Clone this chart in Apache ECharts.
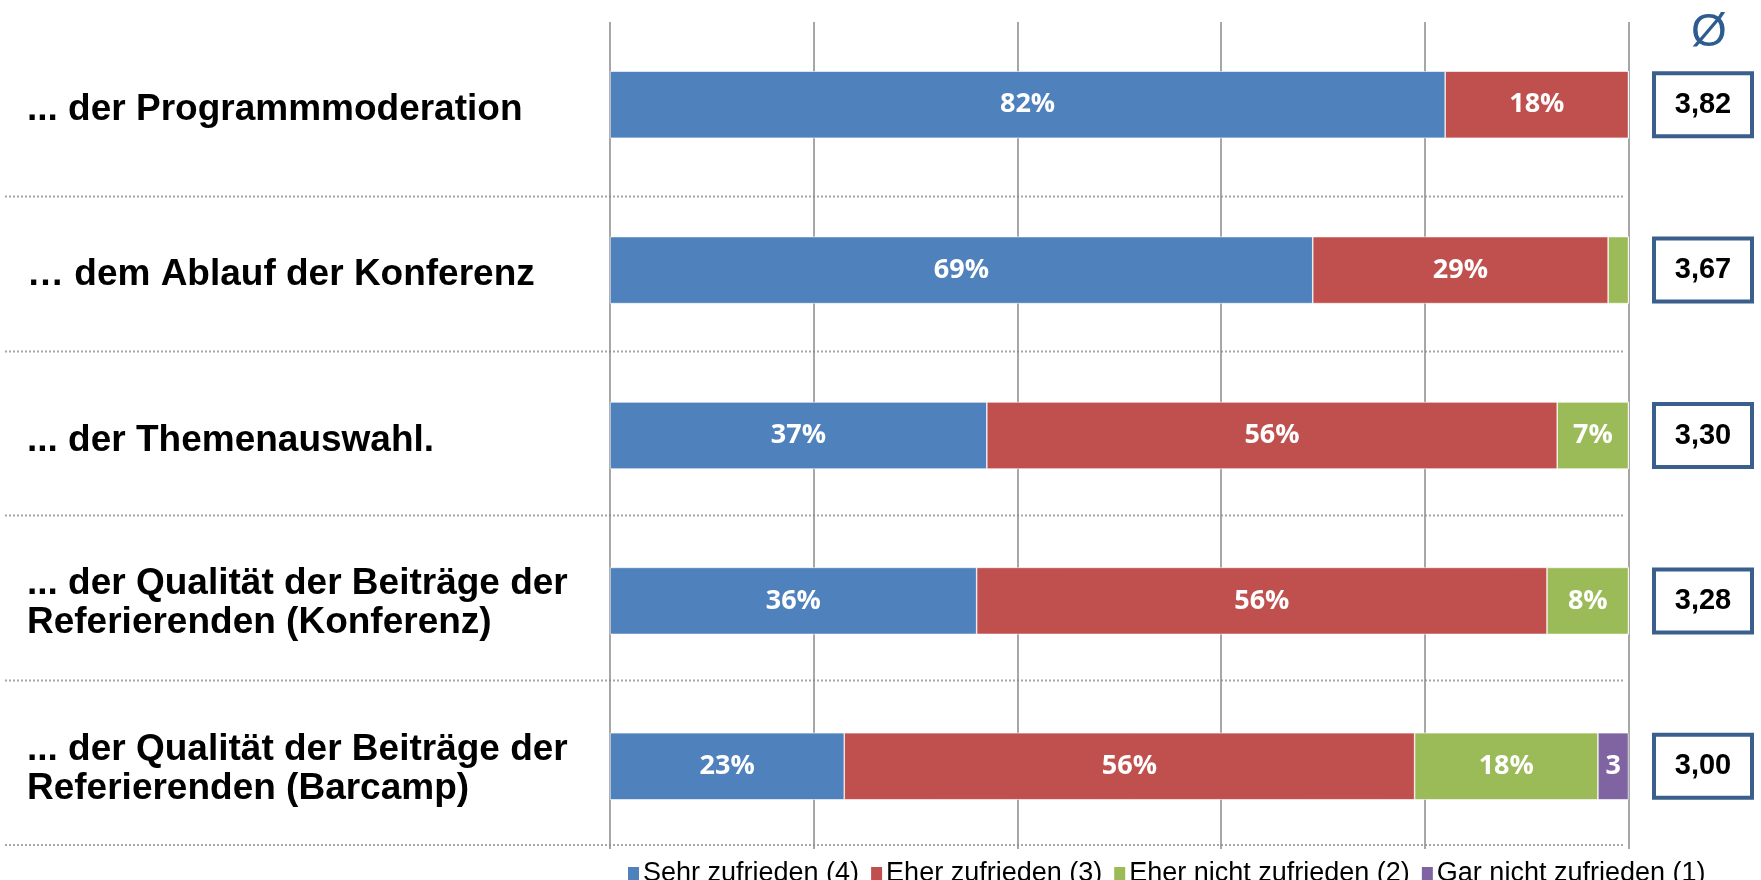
<!DOCTYPE html>
<html>
<head>
<meta charset="utf-8">
<script src="https://cdn.jsdelivr.net/npm/echarts@6/dist/echarts.min.js"></script>
<style>
  html, body { margin: 0; padding: 0; background: #fff; }
  #main { width: 1761px; height: 880px; }
</style>
</head>
<body>
<div id="main"></div>
<script>
var categories = [
  '... der Programmmoderation',
  '\u2026 dem Ablauf der Konferenz',
  '... der Themenauswahl.',
  '... der Qualität der Beiträge der\nReferierenden (Konferenz)',
  '... der Qualität der Beiträge der\nReferierenden (Barcamp)'
]
var seriesNames = ['Sehr zufrieden (4)', 'Eher zufrieden (3)', 'Eher nicht zufrieden (2)', 'Gar nicht zufrieden (1)']
var sehr = [82, 69, 37, 36, 23]
var eher = [18, 29, 56, 56, 56]
var eherNicht = [0, 2, 7, 8, 18]
var garNicht = [0, 0, 0, 0, 3]
var averages = [3.82, 3.67, 3.30, 3.28, 3.00]
var colors = ['#4f81bd', '#c0504d', '#9bbb59', '#8064a2']

var chartDom = document.getElementById('main')
var myChart = echarts.init(chartDom)

function pctLabel (p) {
  if (p.value >= 5) return p.value + '%'
  if (p.value >= 3) return String(p.value)
  return ''
}

function barSeries (name, data, color) {
  return {
    name: name,
    type: 'bar',
    stack: 'total',
    barWidth: '40.5%',
    data: data,
    itemStyle: { color: color, borderColor: '#fff', borderWidth: 0.6 },
    label: {
      show: true,
      position: 'inside',
      formatter: pctLabel,
      color: '#fff',
      fontFamily: 'Open Sans',
      fontWeight: 'bold',
      fontSize: 27
    }
  }
}

// dotted separators between the rows (slide decoration)
var sepY = [196.5, 351.5, 515.5, 680.5, 845]
var separators = sepY.map(function (y) {
  return {
    type: 'line',
    shape: { x1: 5, y1: y, x2: 1623, y2: y },
    style: { stroke: '#a6a6a6', lineWidth: 2, lineDash: [2, 2] },
    z: 0
  }
})

var labelFont = { fontFamily: 'Liberation Sans', fontWeight: 'bold', fontSize: 37, color: '#000' }

var option = {
  animation: false,
  color: colors,
  title: {
    text: '\u00d8',
    left: 1686,
    top: 5,
    textStyle: { fontFamily: 'Liberation Sans', fontWeight: 'normal', fontSize: 46, color: '#2e5c91' }
  },
  legend: {
    data: seriesNames,
    left: 621,
    top: 855,
    itemWidth: 13,
    itemHeight: 15,
    itemGap: 10,
    icon: 'rect',
    textStyle: { fontFamily: 'Liberation Sans', fontSize: 27, color: '#000', padding: [0, 0, 0, -2] }
  },
  graphic: separators,
  grid: [
    { left: 610, width: 1018.5, top: 22, height: 827 },
    { left: 1652, width: 102, top: 22, height: 827 }
  ],
  xAxis: [
    {
      gridIndex: 0,
      type: 'value',
      min: 0,
      max: 100,
      interval: 20,
      axisLabel: { show: false },
      axisLine: { show: false },
      axisTick: { show: false },
      splitLine: { lineStyle: { color: '#8a8a8a', width: 1.5 } }
    },
    {
      gridIndex: 1,
      type: 'value',
      min: 0,
      max: 1,
      show: false
    }
  ],
  yAxis: [
    {
      gridIndex: 0,
      type: 'category',
      inverse: true,
      data: categories,
      axisLine: { show: false },
      axisTick: { show: false },
      splitLine: { show: false },
      axisLabel: {
        align: 'left',
        margin: 583,
        formatter: function (v) {
          return v.split('\n').map(function (s, i) {
            return (i === 0 ? '{f|' : '{t|') + s + '}'
          }).join('\n')
        },
        rich: {
          f: Object.assign({ lineHeight: 44, padding: [10, 0, 0, 0] }, labelFont),
          t: Object.assign({ lineHeight: 44 }, labelFont)
        }
      }
    },
    {
      gridIndex: 1,
      type: 'category',
      inverse: true,
      data: categories,
      show: false
    }
  ],
  series: [
    barSeries(seriesNames[0], sehr, colors[0]),
    barSeries(seriesNames[1], eher, colors[1]),
    barSeries(seriesNames[2], eherNicht, colors[2]),
    barSeries(seriesNames[3], garNicht, colors[3]),
    {
      name: 'avg',
      type: 'bar',
      xAxisIndex: 1,
      yAxisIndex: 1,
      barWidth: '40.5%',
      data: averages.map(function () { return 1 }),
      itemStyle: { color: '#fff', borderColor: '#3b5f8d', borderWidth: 4 },
      label: {
        show: true,
        position: 'inside',
        formatter: function (p) { return averages[p.dataIndex].toFixed(2).replace('.', ',') },
        fontFamily: 'Liberation Sans',
        fontWeight: 'bold',
        fontSize: 29,
        color: '#000'
      }
    }
  ]
}

myChart.setOption(option)
</script>
</body>
</html>
